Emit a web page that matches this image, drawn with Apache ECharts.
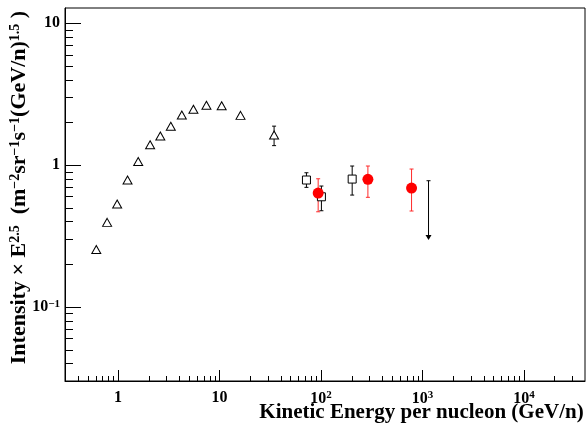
<!DOCTYPE html>
<html style="height: 100%">
<head>
    <meta charset="utf-8">
</head>
<body style="height: 100%; margin: 0; background: #fff">
<div id="container" style="width: 588px; height: 427px"></div>

<script type="text/javascript" src="https://fastly.jsdelivr.net/npm/echarts@6.0.0/dist/echarts.min.js"></script>
<script type="text/javascript">
    // triangles (low energy data)
    var triE = [0.61, 0.78, 0.98, 1.24, 1.58, 2.07, 2.61, 3.31, 4.25, 5.53, 7.43, 10.5, 16.1, 34.5];
    var triI = [0.254, 0.394, 0.531, 0.784, 1.06, 1.39, 1.60, 1.875, 2.25, 2.47, 2.64, 2.62, 2.24, 1.63];
    var triLo = [null, null, null, null, null, null, null, null, null, null, null, null, null, 1.37];
    var triHi = [null, null, null, null, null, null, null, null, null, null, null, null, null, 1.88];
    // open squares
    var sqE = [71.9, 101, 203];
    var sqI = [0.784, 0.597, 0.796];
    var sqLo = [0.696, 0.476, 0.614];
    var sqHi = [0.882, 0.711, 0.984];
    // red filled circles
    var redE = [93.8, 290, 781];
    var redI = [0.634, 0.793, 0.688];
    var redLo = [0.468, 0.592, 0.474];
    var redHi = [0.80, 0.984, 0.937];
    // upper limit
    var ulE = [1148];
    var ulI = [0.775];
    var ulTip = [0.296];

    var FONT = '"Liberation Serif", "DejaVu Serif", serif';

    var dom = document.getElementById('container');
    var myChart = echarts.init(dom, null, {renderer: 'canvas'});

    function zip3(a, b, c) {
        var out = [];
        for (var i = 0; i < a.length; i++) {
            if (b[i] != null && c[i] != null) out.push([a[i], b[i], c[i]]);
        }
        return out;
    }
    function zip2(a, b) {
        return a.map(function (v, i) { return [v, b[i]]; });
    }

    // minor ticks at 2..9 x 10^n inside the axis range
    function minorTicks(lo, hi) {
        var t = [];
        for (var d = -3; d <= 5; d++) {
            for (var m = 2; m <= 9; m++) {
                var v = m * Math.pow(10, d);
                if (v > lo * 1.01 && v < hi) t.push(v);
            }
        }
        return t;
    }
    var xMin = 0.3, xMax = 40000, yMin = 0.03, yMax = 12.8;
    var xMinor = minorTicks(xMin, xMax);
    var yMinor = minorTicks(yMin, yMax);

    function powLabel(v) {
        var e = Math.round(Math.log10(v));
        if (e === 0) return '1';
        if (e === 1) return '10';
        return '10{s|' + (e < 0 ? '\u2212' + (-e) : e) + '}';
    }

    function errorBar(color) {
        return function (params, api) {
            var x = api.value(0);
            var pLo = api.coord([x, api.value(1)]);
            var pHi = api.coord([x, api.value(2)]);
            var st = {stroke: color, lineWidth: 1};
            return {
                type: 'group',
                children: [
                    {type: 'line', shape: {x1: pLo[0], y1: pLo[1], x2: pHi[0], y2: pHi[1]}, style: st},
                    {type: 'line', shape: {x1: pLo[0] - 2, y1: pLo[1], x2: pLo[0] + 2, y2: pLo[1]}, style: st},
                    {type: 'line', shape: {x1: pHi[0] - 2, y1: pHi[1], x2: pHi[0] + 2, y2: pHi[1]}, style: st}
                ]
            };
        };
    }

    var labelRich = {
        s: {fontSize: 11, fontWeight: 'bold', fontFamily: FONT, verticalAlign: 'top', padding: [0, 0, 6, 0]}
    };

    var option = {
        animation: false,
        backgroundColor: '#fff',
        grid: {
            left: 65, right: 3, top: 8, bottom: 46,
            containLabel: false,
            outerBoundsMode: 'none',
            show: true, borderColor: '#000', borderWidth: 1
        },
        xAxis: {
            type: 'log',
            logBase: 10,
            min: xMin,
            max: xMax,
            name: 'Kinetic Energy per nucleon (GeV/n)',
            nameLocation: 'middle',
            nameGap: 21,
            nameMoveOverlap: false,
            nameTextStyle: {
                fontFamily: FONT, fontWeight: 'bold', fontSize: 21, color: '#000',
                padding: [0, 0, 0, 193]
            },
            axisLine: {show: true, lineStyle: {color: '#000', width: 1}},
            axisTick: {show: true, inside: true, length: 11, lineStyle: {color: '#000'}},
            axisLabel: {
                show: true, margin: 9, fontFamily: FONT, fontWeight: 'bold', fontSize: 16, color: '#000',
                showMinLabel: false, showMaxLabel: false,
                formatter: powLabel, rich: labelRich
            },
            splitLine: {show: false}
        },
        yAxis: {
            type: 'log',
            logBase: 10,
            min: yMin,
            max: yMax,
            name: 'Intensity \u00d7 E{s|2.5}  (m{s|\u22122}sr{s|\u22121}s{s|\u22121}(GeV/n){s|1.5} )',
            nameLocation: 'middle',
            nameGap: 34,
            nameMoveOverlap: false,
            nameTextStyle: {
                fontFamily: FONT, fontWeight: 'bold', fontSize: 22, color: '#000',
                padding: [0, 0, 0, 14],
                rich: {
                    s: {fontSize: 14, fontWeight: 'bold', fontFamily: FONT, verticalAlign: 'top', padding: [0, 0, 9, 0]}
                }
            },
            axisLine: {show: true, lineStyle: {color: '#000', width: 1}},
            axisTick: {show: true, inside: true, length: 16, lineStyle: {color: '#000'}},
            axisLabel: {
                show: true, margin: 5, fontFamily: FONT, fontWeight: 'bold', fontSize: 16, color: '#000',
                showMinLabel: false, showMaxLabel: false,
                formatter: powLabel, rich: labelRich
            },
            splitLine: {show: false}
        },
        series: [
            {
                name: 'triErr', type: 'custom', z: 1,
                data: zip3(triE, triLo, triHi), renderItem: errorBar('#000')
            },
            {
                name: 'sqErr', type: 'custom', z: 1,
                data: zip3(sqE, sqLo, sqHi), renderItem: errorBar('#000')
            },
            {
                name: 'redErr', type: 'custom', z: 1,
                data: zip3(redE, redLo, redHi), renderItem: errorBar('#ff2a2a')
            },
            {
                name: 'upper limit', type: 'custom', z: 1,
                data: zip3(ulE, ulI, ulTip),
                renderItem: function (params, api) {
                    var x = api.value(0);
                    var pTop = api.coord([x, api.value(1)]);
                    var pTip = api.coord([x, api.value(2)]);
                    var st = {stroke: '#000', lineWidth: 1};
                    return {
                        type: 'group',
                        children: [
                            {type: 'line', shape: {x1: pTop[0], y1: pTop[1], x2: pTip[0], y2: pTip[1] - 4}, style: st},
                            {type: 'line', shape: {x1: pTop[0] - 2, y1: pTop[1], x2: pTop[0] + 2, y2: pTop[1]}, style: st},
                            {type: 'polygon', shape: {points: [[pTip[0] - 3, pTip[1] - 5], [pTip[0] + 3, pTip[1] - 5], [pTip[0], pTip[1]]]}, style: {fill: '#000'}}
                        ]
                    };
                }
            },
            {
                name: 'triangles', type: 'scatter', z: 3,
                symbol: 'triangle', symbolSize: [9, 8],
                itemStyle: {color: '#fff', borderColor: '#000', borderWidth: 1, opacity: 1},
                data: zip2(triE, triI)
            },
            {
                name: 'squares', type: 'scatter', z: 3,
                symbol: 'rect', symbolSize: 8,
                itemStyle: {color: '#fff', borderColor: '#000', borderWidth: 1, opacity: 1},
                data: zip2(sqE, sqI)
            },
            {
                name: 'circles', type: 'scatter', z: 3,
                symbol: 'circle', symbolSize: 11,
                itemStyle: {color: '#ff0000', opacity: 1},
                data: zip2(redE, redI)
            }
        ]
    };

    myChart.setOption(option);

    // minor ticks: positions come from the chart's own log axes
    var axisBottom = myChart.convertToPixel({yAxisIndex: 0}, yMin);
    var axisLeft = myChart.convertToPixel({xAxisIndex: 0}, xMin);
    var tickLines = [];
    xMinor.forEach(function (v) {
        var px = Math.round(myChart.convertToPixel({xAxisIndex: 0}, v)) + 0.5;
        tickLines.push({
            type: 'line', silent: true, z: 50,
            shape: {x1: px, y1: axisBottom, x2: px, y2: axisBottom - 5},
            style: {stroke: '#000', lineWidth: 1}
        });
    });
    yMinor.forEach(function (v) {
        var py = Math.round(myChart.convertToPixel({yAxisIndex: 0}, v)) + 0.5;
        tickLines.push({
            type: 'line', silent: true, z: 50,
            shape: {x1: axisLeft, y1: py, x2: axisLeft + 8, y2: py},
            style: {stroke: '#000', lineWidth: 1}
        });
    });
    myChart.setOption({graphic: tickLines});

    window.addEventListener('resize', myChart.resize);
</script>
</body>
</html>
